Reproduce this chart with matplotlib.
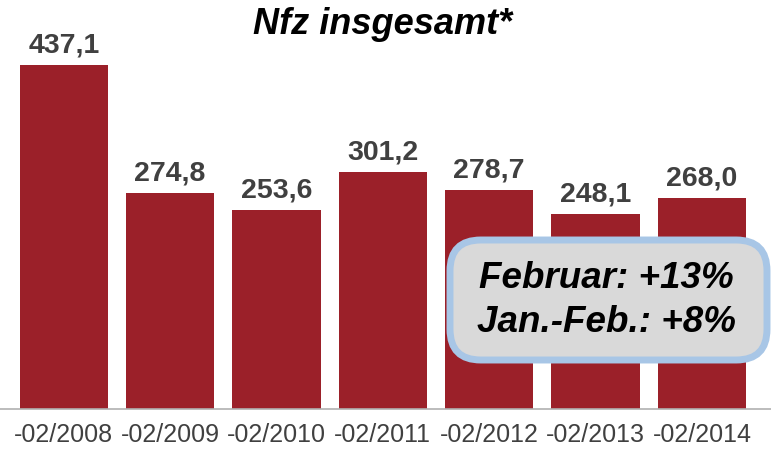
import matplotlib.pyplot as plt
from matplotlib.patches import FancyBboxPatch

# Nfz registrations Jan-Feb, in thousands
periods = ["-02/2008", "-02/2009", "-02/2010", "-02/2011", "-02/2012", "-02/2013", "-02/2014"]
values = [437.1, 274.8, 253.6, 301.2, 278.7, 248.1, 268.0]
note_lines = ["Februar: +13%", "Jan.-Feb.: +8%"]

bar_color = "#9B2029"
label_color = "#404040"

plt.rcParams["font.family"] = ["Liberation Sans", "DejaVu Sans"]

fig = plt.figure(figsize=(7.71, 4.49), dpi=100)
ax = fig.add_axes([0.0, 40 / 449, 1.0, 409 / 449])

x = range(len(values))
bars = ax.bar(x, values, width=0.83, color=bar_color)
ax.set_xlim(-0.6, 6.65)
ax.set_ylim(0, 520)

for b, v in zip(bars, values):
    ax.text(b.get_x() + b.get_width() / 2, v + 8, f"{v:.1f}".replace(".", ","),
            ha="center", va="bottom", fontsize=20.5, fontweight="bold", color=label_color)

ax.set_xticks(list(x))
ax.set_xticklabels(periods, fontsize=18, color=label_color)
ax.tick_params(axis="x", length=0, pad=10)
ax.set_yticks([])
for s in ["top", "right", "left"]:
    ax.spines[s].set_visible(False)
ax.spines["bottom"].set_color("#b0b0b0")
ax.spines["bottom"].set_linewidth(1.2)

fig.text(383 / 771, 1 - 24 / 449, "Nfz insgesamt*", ha="center", va="center",
         fontsize=26, fontweight="bold", fontstyle="italic", color="black")

# note box
box = FancyBboxPatch((450 / 771, 1 - 360 / 449), 317 / 771, 120 / 449,
                     boxstyle="round,pad=0,rounding_size=0.04",
                     transform=fig.transFigure, facecolor="#D9D9D9",
                     edgecolor="#A8C6E6", linewidth=5, zorder=5,
                     mutation_aspect=771 / 449)
fig.add_artist(box)
fig.text(606 / 771, 1 - 278 / 449, note_lines[0], ha="center", va="center",
         fontsize=26.5, fontweight="bold", fontstyle="italic", color="black", zorder=6)
fig.text(606 / 771, 1 - 322 / 449, note_lines[1], ha="center", va="center",
         fontsize=26.5, fontweight="bold", fontstyle="italic", color="black", zorder=6)

fig.savefig("out.png", dpi=100)
